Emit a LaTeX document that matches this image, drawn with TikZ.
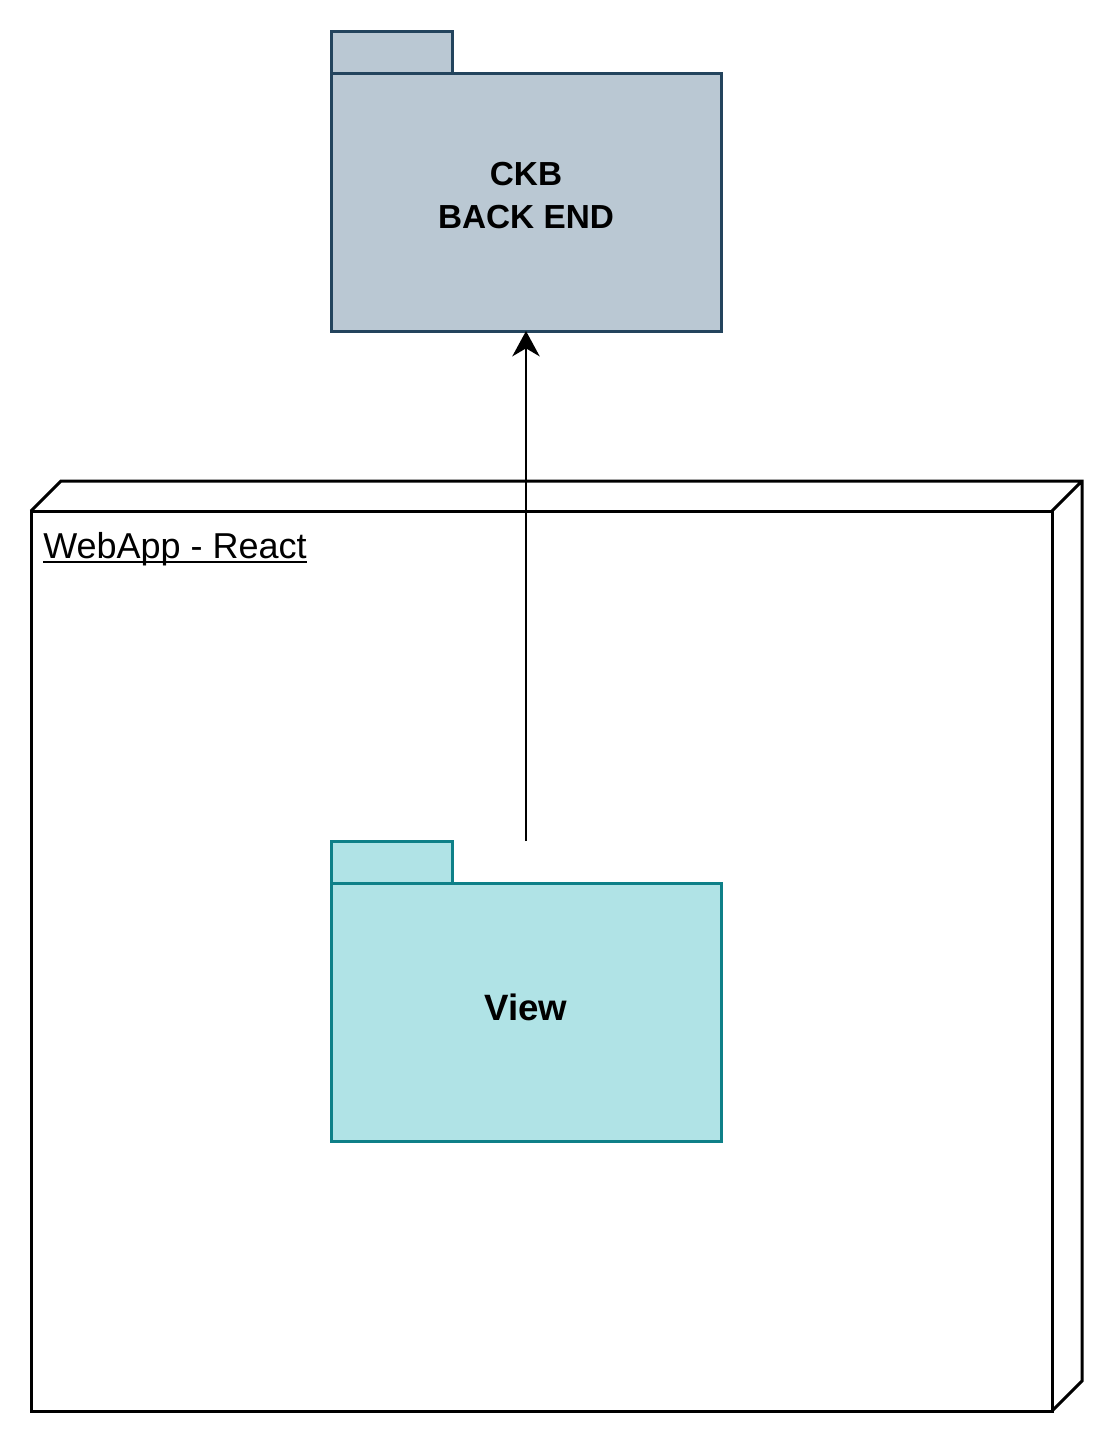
\documentclass[tikz,border=0pt]{standalone}
\usepackage{fontspec}
\setmainfont{Liberation Sans}
\usetikzlibrary{positioning,arrows.meta}
\definecolor{backfill}{HTML}{BAC8D3}
\definecolor{backline}{HTML}{23445D}
\definecolor{viewfill}{HTML}{B0E3E6}
\definecolor{viewline}{HTML}{0E8088}

\begin{document}
\begin{tikzpicture}[x=0.75pt,y=-0.75pt]
	\tikzset{pkg body/.style={rectangle, draw, line width=2.25pt, outer sep=0pt, minimum width=292.5pt, minimum height=193.5pt, align=center},
		pkg tab/.style={rectangle, draw, line width=2.25pt, outer sep=0pt, minimum width=90.75pt, minimum height=31.5pt}}
	\useasboundingbox (0,0) rectangle (1113,1443);
	% device node
	\node[draw, line width=2.25pt, outer sep=0pt, minimum width=765.75pt, minimum height=675pt] (webapp) at (541.5,961) {};
	\draw[line width=2.25pt] (webapp.north west) -- ++(30,-30) -- ++(1021,0) -- ++(0,900) -- (webapp.south east)
	   (webapp.north east) -- ++(30,-30);
	\node[anchor=base west, inner sep=0pt, font=\fontsize{27}{32}\selectfont] (webapplabel) at ([shift={(12,47)}]webapp.north west) {WebApp - React};
	\draw[line width=1.5pt] ([yshift=-3pt]webapplabel.base west) -- ([yshift=-3pt]webapplabel.base east);
	% packages
	\node[pkg body, fill=backfill, draw=backline, font=\fontsize{25}{32.25}\selectfont\bfseries] (backend) at (526,202) {CKB\\BACK END\strut};
	\node[pkg tab, fill=backfill, draw=backline, above right=0pt and 0pt of backend.north west] (backendtab) {};
	\node[pkg body, fill=viewfill, draw=viewline, font=\fontsize{27.5}{33}\selectfont\bfseries] (view) at (526,1012) {View\strut};
	\node[pkg tab, fill=viewfill, draw=viewline, above right=0pt and 0pt of view.north west] (viewtab) {};
	\coordinate (viewtop) at (view.north |- viewtab.north);
	\draw[-{Stealth[length=19pt,width=20.5pt,inset=6pt]}, line width=2pt] (viewtop) -- (backend.south);
\end{tikzpicture}
\end{document}
